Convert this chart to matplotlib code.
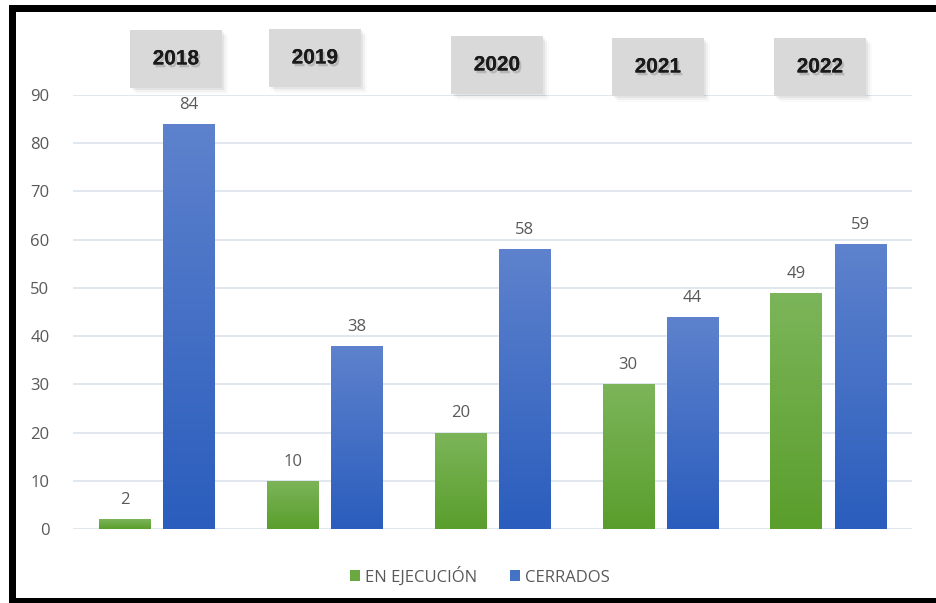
import matplotlib
matplotlib.use("Agg")
import matplotlib.pyplot as plt
import numpy as np
from matplotlib.patches import Rectangle
from matplotlib.colors import LinearSegmentedColormap
import matplotlib.patheffects as pe
from matplotlib import font_manager

years = ["2018", "2019", "2020", "2021", "2022"]
en_ejecucion = [2, 10, 20, 30, 49]
cerrados = [84, 38, 58, 44, 59]
series_names = ["EN EJECUCIÓN", "CERRADOS"]
y_ticks = [0, 10, 20, 30, 40, 50, 60, 70, 80, 90]

names = {f.name for f in font_manager.fontManager.ttflist}
narrow = "Liberation Sans Narrow" if "Liberation Sans Narrow" in names else "Liberation Sans"

W, H = 937, 603
fig = plt.figure(figsize=(W / 100, H / 100), dpi=100)
fig.patch.set_facecolor("white")

# black frame (top, left, bottom)
fig.patches.append(Rectangle((9 / W, 1 - 12 / H), 1, 7 / H, transform=fig.transFigure,
                             facecolor="black", edgecolor="none", zorder=10))
fig.patches.append(Rectangle((9 / W, 0), 7 / W, 1 - 5 / H, transform=fig.transFigure,
                             facecolor="black", edgecolor="none", zorder=10))
fig.patches.append(Rectangle((9 / W, 0), 1, 5 / H, transform=fig.transFigure,
                             facecolor="black", edgecolor="none", zorder=10))

ax = fig.add_axes([73 / W, 1 - 529 / H, (912 - 73) / W, (529 - 95) / H])
ax.set_facecolor("none")
x = np.arange(len(years))
bw = 0.305
gap = 0.077
off = (bw + gap) / 2

green_cmap = LinearSegmentedColormap.from_list("g", ["#5A9E2C", "#7CB55A"])
blue_cmap = LinearSegmentedColormap.from_list("b", ["#2A5DBD", "#5E82CD"])

b1 = ax.bar(x - off, en_ejecucion, bw, color="#6AA842", zorder=3, label=series_names[0])
b2 = ax.bar(x + off, cerrados, bw, color="#4472C4", zorder=3, label=series_names[1])

ax.set_xlim(-0.5, len(years) - 0.5)
ax.set_ylim(0, 90)

grad = np.linspace(0, 1, 256).reshape(-1, 1)
for bars, cmap in ((b1, green_cmap), (b2, blue_cmap)):
    for bar in bars:
        bx, by = bar.get_x(), bar.get_y()
        w, h = bar.get_width(), bar.get_height()
        im = ax.imshow(grad, cmap=cmap, aspect="auto", origin="lower",
                       extent=[bx, bx + w, by, by + h], zorder=3.5)
        im.set_clip_path(bar)
        bar.set_edgecolor("none")

ax.set_xlim(-0.5, len(years) - 0.5)
ax.set_ylim(0, 90)

for bars, vals in ((b1, en_ejecucion), (b2, cerrados)):
    for bar, v in zip(bars, vals):
        ax.annotate(str(v), (bar.get_x() + bar.get_width() / 2, v), xytext=(0, 8),
                    textcoords="offset points", ha="center", va="bottom",
                    fontsize=12, color="#595959", family="Open Sans")

ax.set_yticks(y_ticks)
ax.yaxis.grid(True, color="#DCE3EC", linewidth=1.2, zorder=0)
ax.set_axisbelow(True)
ax.tick_params(axis="y", length=0, pad=17, labelsize=12, labelcolor="#595959")
for lab in ax.get_yticklabels():
    lab.set_family("Open Sans")
ax.set_xticks([])
for s in ax.spines.values():
    s.set_visible(False)

# year boxes
box_centers = [(176, 59), (315, 58), (497, 65), (658, 67), (820, 67)]
bwid, bhei = 92, 58
for yr, (cx, cy) in zip(years, box_centers):
    for k, a in enumerate([0.05, 0.035, 0.02]):
        d = 2 + 2 * k
        fig.patches.append(Rectangle(((cx - bwid / 2 + d) / W, 1 - (cy + bhei / 2 + d) / H),
                                     bwid / W, bhei / H, transform=fig.transFigure,
                                     facecolor="black", alpha=a, edgecolor="none", zorder=4))
    fig.patches.append(Rectangle(((cx - bwid / 2) / W, 1 - (cy + bhei / 2) / H),
                                 bwid / W, bhei / H, transform=fig.transFigure,
                                 facecolor="#D9D9D9", edgecolor="none", zorder=5))
    fig.text(cx / W, 1 - cy / H, yr, ha="center", va="center", fontsize=15,
             fontweight="bold", color="#1A1A1A",
             family=[narrow, "DejaVu Sans"], zorder=6,
             path_effects=[pe.withSimplePatchShadow(offset=(1.5, -2), shadow_rgbFace="#777777", alpha=0.35),
                           pe.Normal()])

leg = fig.legend(handles=[b1, b2], labels=series_names, loc="center",
                 bbox_to_anchor=(480 / W, 1 - 576 / H), ncol=2, frameon=False,
                 handlelength=0.6, handleheight=0.6, handletextpad=0.3, columnspacing=2.0,
                 prop={"family": "Open Sans", "size": 12})
for t in leg.get_texts():
    t.set_color("#595959")

fig.savefig("out.png", dpi=100, facecolor="white")
